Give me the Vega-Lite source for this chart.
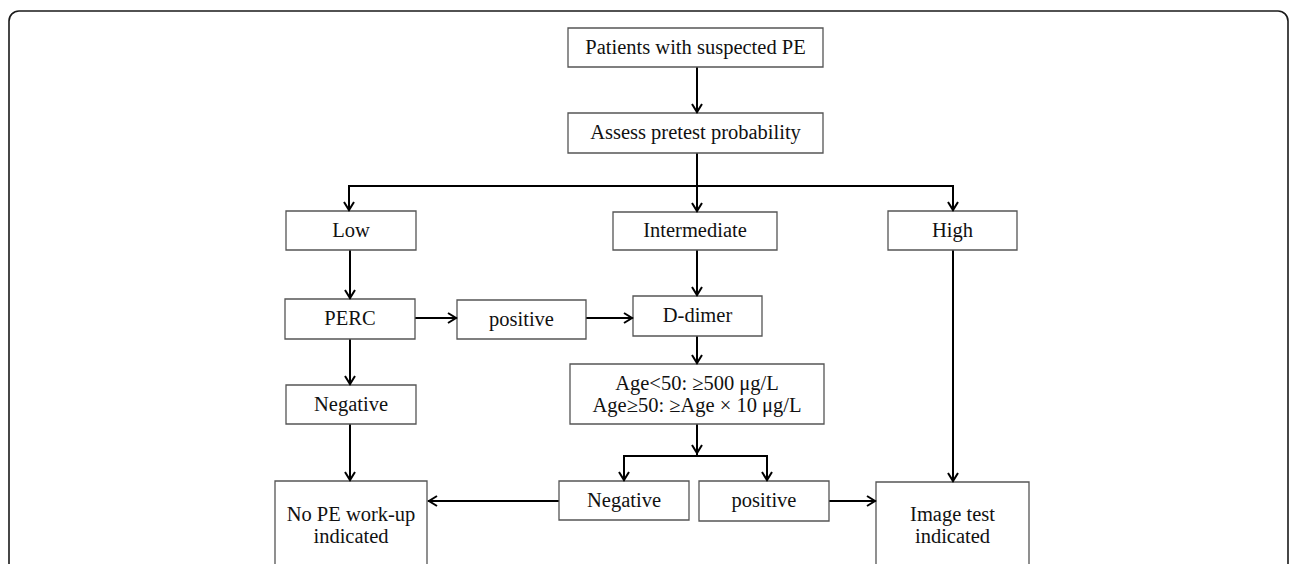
{
  "$schema": "https://vega.github.io/schema/vega-lite/v6.json",
  "width": 1290,
  "height": 564,
  "padding": 0,
  "autosize": {"type": "fit", "contains": "padding"},
  "background": "white",
  "config": {"view": {"stroke": null}},
  "datasets": {
    "frame": [{"x1": 9, "x2": 1288, "y1": 11, "y2": 640}],
    "boxes": [
      {"name": "Patients", "x1": 568, "x2": 823, "y1": 28, "y2": 67},
      {"name": "Assess", "x1": 568, "x2": 823, "y1": 113, "y2": 153},
      {"name": "Low", "x1": 286, "x2": 416, "y1": 211, "y2": 250},
      {"name": "Intermediate", "x1": 613, "x2": 777, "y1": 212, "y2": 250},
      {"name": "High", "x1": 888, "x2": 1017, "y1": 211, "y2": 250},
      {"name": "PERC", "x1": 285, "x2": 415, "y1": 299, "y2": 339},
      {"name": "positive1", "x1": 457, "x2": 586, "y1": 300, "y2": 339},
      {"name": "D-dimer", "x1": 633, "x2": 762, "y1": 296, "y2": 336},
      {"name": "Negative1", "x1": 286, "x2": 416, "y1": 385, "y2": 424},
      {"name": "Age", "x1": 570, "x2": 824, "y1": 364, "y2": 424},
      {"name": "Negative2", "x1": 559, "x2": 689, "y1": 481, "y2": 520},
      {"name": "positive2", "x1": 699, "x2": 829, "y1": 481, "y2": 521},
      {"name": "NoPE", "x1": 275, "x2": 427, "y1": 481, "y2": 640},
      {"name": "Image", "x1": 876, "x2": 1029, "y1": 482, "y2": 640}
    ],
    "labels": [
      {"x": 695.5, "y": 47.5, "label": "Patients with suspected PE"},
      {"x": 695.5, "y": 133, "label": "Assess pretest probability"},
      {"x": 351, "y": 230.5, "label": "Low"},
      {"x": 695, "y": 231, "label": "Intermediate"},
      {"x": 952.5, "y": 230.5, "label": "High"},
      {"x": 350, "y": 319, "label": "PERC"},
      {"x": 521.5, "y": 319.5, "label": "positive"},
      {"x": 697.5, "y": 316, "label": "D-dimer"},
      {"x": 351, "y": 404.5, "label": "Negative"},
      {"x": 697, "y": 384, "label": "Age<50: ≥500 μg/L"},
      {"x": 697, "y": 406, "label": "Age≥50: ≥Age × 10 μg/L"},
      {"x": 624, "y": 500.5, "label": "Negative"},
      {"x": 764, "y": 501, "label": "positive"},
      {"x": 351, "y": 515, "label": "No PE work-up"},
      {"x": 351, "y": 537, "label": "indicated"},
      {"x": 952.5, "y": 515, "label": "Image test"},
      {"x": 952.5, "y": 537, "label": "indicated"}
    ],
    "lines": [
      {"x1": 697, "y1": 67, "x2": 697, "y2": 112},
      {"x1": 697, "y1": 153, "x2": 697, "y2": 186},
      {"x1": 349, "y1": 186, "x2": 953, "y2": 186},
      {"x1": 349, "y1": 186, "x2": 349, "y2": 210},
      {"x1": 697, "y1": 186, "x2": 697, "y2": 211},
      {"x1": 953, "y1": 186, "x2": 953, "y2": 210},
      {"x1": 350, "y1": 250, "x2": 350, "y2": 298},
      {"x1": 350, "y1": 339, "x2": 350, "y2": 384},
      {"x1": 350, "y1": 424, "x2": 350, "y2": 480},
      {"x1": 415, "y1": 318, "x2": 456, "y2": 318},
      {"x1": 586, "y1": 318, "x2": 632, "y2": 318},
      {"x1": 697, "y1": 250, "x2": 697, "y2": 295},
      {"x1": 697, "y1": 336, "x2": 697, "y2": 363},
      {"x1": 697, "y1": 424, "x2": 697, "y2": 455},
      {"x1": 624, "y1": 456, "x2": 767, "y2": 456},
      {"x1": 624, "y1": 456, "x2": 624, "y2": 480},
      {"x1": 767, "y1": 456, "x2": 767, "y2": 480},
      {"x1": 559, "y1": 501, "x2": 429, "y2": 501},
      {"x1": 829, "y1": 501, "x2": 875, "y2": 501},
      {"x1": 953, "y1": 250, "x2": 953, "y2": 481}
    ],
    "arrows": [
      {"x": 697, "y": 112, "dir": "down"},
      {"x": 349, "y": 210, "dir": "down"},
      {"x": 697, "y": 211, "dir": "down"},
      {"x": 953, "y": 210, "dir": "down"},
      {"x": 350, "y": 298, "dir": "down"},
      {"x": 350, "y": 384, "dir": "down"},
      {"x": 350, "y": 480, "dir": "down"},
      {"x": 456, "y": 318, "dir": "right"},
      {"x": 632, "y": 318, "dir": "right"},
      {"x": 697, "y": 295, "dir": "down"},
      {"x": 697, "y": 363, "dir": "down"},
      {"x": 697, "y": 453, "dir": "down"},
      {"x": 624, "y": 480, "dir": "down"},
      {"x": 767, "y": 480, "dir": "down"},
      {"x": 429, "y": 501, "dir": "left"},
      {"x": 875, "y": 501, "dir": "right"},
      {"x": 953, "y": 481, "dir": "down"}
    ]
  },
  "layer": [
    {
      "data": {"name": "frame"},
      "mark": {"type": "rect", "fill": null, "stroke": "#1a1a1a", "strokeWidth": 1.6, "cornerRadius": 10, "clip": true},
      "encoding": {
        "x": {"field": "x1", "type": "quantitative", "scale": {"domain": [0, 1290], "nice": false, "zero": false}, "axis": null},
        "x2": {"field": "x2"},
        "y": {"field": "y1", "type": "quantitative", "scale": {"domain": [0, 564], "nice": false, "zero": false, "reverse": true}, "axis": null},
        "y2": {"field": "y2"}
      }
    },
    {
      "data": {"name": "lines"},
      "mark": {"type": "rule", "stroke": "black", "strokeWidth": 2, "strokeCap": "square"},
      "encoding": {
        "x": {"field": "x1", "type": "quantitative"},
        "x2": {"field": "x2"},
        "y": {"field": "y1", "type": "quantitative"},
        "y2": {"field": "y2"}
      }
    },
    {
      "data": {"name": "boxes"},
      "mark": {"type": "rect", "fill": "white", "stroke": "#555555", "strokeWidth": 1.3, "clip": true},
      "encoding": {
        "x": {"field": "x1", "type": "quantitative"},
        "x2": {"field": "x2"},
        "y": {"field": "y1", "type": "quantitative"},
        "y2": {"field": "y2"}
      }
    },
    {
      "data": {"name": "arrows"},
      "mark": {"type": "point", "filled": false, "stroke": "black", "strokeWidth": 2, "size": 100, "strokeJoin": "miter", "opacity": 1},
      "encoding": {
        "x": {"field": "x", "type": "quantitative"},
        "y": {"field": "y", "type": "quantitative"},
        "shape": {
          "field": "dir",
          "type": "nominal",
          "scale": {"domain": ["down", "right", "left"], "range": ["M-1,-1.6L0,0L1,-1.6", "M-1.6,-1L0,0L-1.6,1", "M1.6,-1L0,0L1.6,1"]},
          "legend": null
        }
      }
    },
    {
      "data": {"name": "labels"},
      "mark": {"type": "text", "font": "Liberation Serif", "fontSize": 20.5, "color": "#111111", "baseline": "middle", "align": "center"},
      "encoding": {
        "x": {"field": "x", "type": "quantitative"},
        "y": {"field": "y", "type": "quantitative"},
        "text": {"field": "label", "type": "nominal"}
      }
    }
  ]
}
